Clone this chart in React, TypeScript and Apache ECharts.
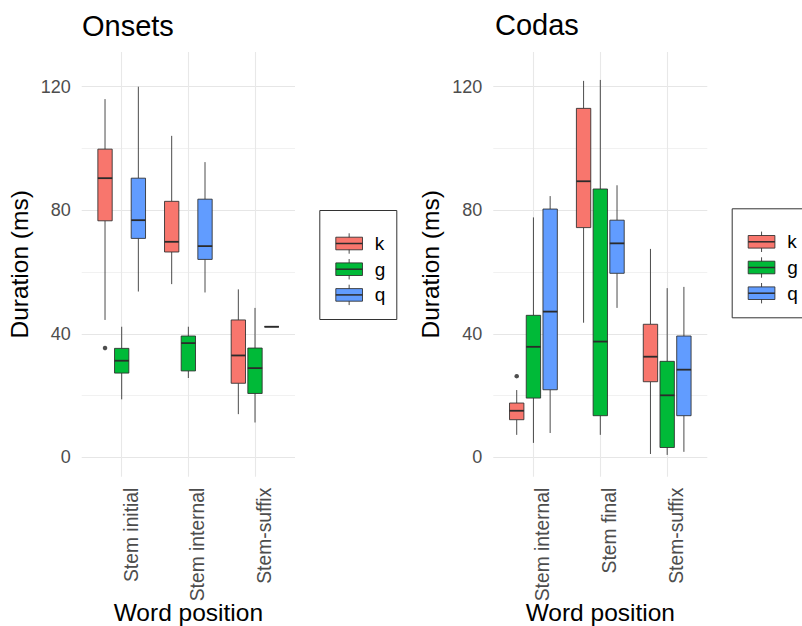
import React, { useEffect, useRef } from "react";
import * as echarts from "echarts";

// ---------- data ----------
const onsetCategories = ["Stem initial", "Stem internal", "Stem-suffix"];
const codaCategories = ["Stem internal", "Stem final", "Stem-suffix"];
const groupNames = ["k", "g", "q"];

// each entry: [lower whisker, Q1, median, Q3, upper whisker]
const onsetK = [
  [44.5, 76.6, 90.4, 99.8, 116.0],
  [56.1, 66.5, 69.8, 82.9, 104.1],
  [14.0, 24.0, 33.0, 44.5, 54.4],
];
const onsetG = [
  [18.8, 27.3, 31.3, 35.3, 42.3],
  [25.7, 28.0, 37.0, 39.3, 42.3],
  [11.3, 20.7, 28.9, 35.4, 48.4],
];
const onsetQ = [
  [53.7, 70.9, 76.8, 90.4, 120.0],
  [53.4, 64.1, 68.4, 83.6, 95.6],
  [42.3, 42.3, 42.3, 42.3, 42.3],
];
const codaK = [
  [7.3, 12.2, 15.1, 17.6, 21.8],
  [43.6, 74.4, 89.4, 113.0, 121.9],
  [1.1, 24.5, 32.6, 43.1, 67.5],
];
const codaG = [
  [4.7, 19.2, 35.8, 46.0, 77.7],
  [7.3, 13.5, 37.5, 86.9, 122.2],
  [0.8, 3.2, 20.1, 31.1, 54.8],
];
const codaQ = [
  [7.9, 21.9, 47.2, 80.4, 84.6],
  [48.4, 59.6, 69.3, 76.8, 88.1],
  [1.8, 13.5, 28.4, 39.3, 55.2],
];
// outliers: [category index, group index, value]
const onsetOutliers = [[0, 0, 35.4]];
const codaOutliers = [[0, 0, 26.3]];

const yGridValues = [0, 20, 40, 60, 80, 100, 120];
const yLabelValues = [0, 40, 80, 120];

// ---------- styling ----------
const FONT = "'Liberation Sans', Arial, Helvetica, sans-serif";
const groupColors = ["#F8766D", "#00BA38", "#619CFF"];
const groupOffsets = [-0.25, 0, 0.25];
const BOX_WIDTH = 0.215;
const STROKE = "rgba(45,45,45,0.85)";

function boxSeries(panel: number, gi: number, stats: number[][]) {
  const color = groupColors[gi];
  return {
    type: "custom",
    xAxisIndex: panel,
    yAxisIndex: panel,
    renderItem: (_params: any, api: any) => {
      const x = api.value(0);
      const pLow = api.coord([x, api.value(1)]);
      const pQ1 = api.coord([x, api.value(2)]);
      const pMed = api.coord([x, api.value(3)]);
      const pQ3 = api.coord([x, api.value(4)]);
      const pHigh = api.coord([x, api.value(5)]);
      const w = api.size([BOX_WIDTH, 0])[0];
      const cx = pMed[0];
      return {
        type: "group",
        children: [
          { type: "line", shape: { x1: cx, y1: pHigh[1], x2: cx, y2: pQ3[1] }, style: { stroke: STROKE, lineWidth: 1 } },
          { type: "line", shape: { x1: cx, y1: pQ1[1], x2: cx, y2: pLow[1] }, style: { stroke: STROKE, lineWidth: 1 } },
          {
            type: "rect",
            shape: { x: cx - w / 2, y: pQ3[1], width: w, height: pQ1[1] - pQ3[1] },
            style: { fill: color, stroke: STROKE, lineWidth: 1 },
          },
          {
            type: "line",
            shape: { x1: cx - w / 2, y1: pMed[1], x2: cx + w / 2, y2: pMed[1] },
            style: { stroke: "#2b2b2b", lineWidth: 1.8 },
          },
        ],
      };
    },
    data: stats.map((s, ci) => [ci + 1 + groupOffsets[gi], ...s]),
    encode: { x: 0, y: [1, 2, 3, 4, 5] },
    silent: true,
  };
}

function outlierSeries(panel: number, outs: number[][]) {
  return {
    type: "scatter",
    xAxisIndex: panel,
    yAxisIndex: panel,
    symbolSize: 4.5,
    itemStyle: { color: "#222" },
    data: outs.map((o) => [o[0] + 1 + groupOffsets[o[1]], o[2]]),
    silent: true,
  };
}

function xAxis(panel: number, cats: string[]) {
  return {
    type: "value",
    gridIndex: panel,
    min: 0.4,
    max: 3.6,
    name: "Word position",
    nameLocation: "middle",
    nameGap: 123,
    nameMoveOverlap: false,
    nameTextStyle: { fontSize: 24.5, color: "#000", fontFamily: FONT },
    axisLine: { show: false },
    axisTick: { show: false, customValues: [1, 2, 3] },
    axisLabel: {
      customValues: [1, 2, 3],
      formatter: (v: number) => cats[Math.round(v) - 1],
      rotate: 90,
      verticalAlign: "top",
      fontSize: 19.3,
      color: "#4d4d4d",
      fontFamily: FONT,
      margin: 11,
    },
    splitLine: { show: true, lineStyle: { color: "#e8e8e8", width: 1.1 } },
  };
}

function yAxis(panel: number) {
  return {
    type: "value",
    gridIndex: panel,
    min: -6.25,
    max: 131.25,
    name: "Duration (ms)",
    nameLocation: "middle",
    nameGap: 50,
    nameMoveOverlap: false,
    nameTextStyle: { fontSize: 24.5, color: "#000", fontFamily: FONT },
    axisLine: { show: false },
    axisTick: { show: false, customValues: yGridValues },
    axisLabel: {
      customValues: yLabelValues,
      fontSize: 18,
      color: "#4d4d4d",
      fontFamily: FONT,
      margin: 11,
    },
    splitLine: { show: true, lineStyle: { color: ["#e6e6e6", "#f1f1f1"], width: 1.1 } },
  };
}

function legendGraphic(left: number, top: number) {
  const children: any[] = [
    { type: "rect", shape: { x: 0, y: 0, width: 77, height: 109 }, style: { fill: "#fff", stroke: "#333", lineWidth: 1 } },
  ];
  groupNames.forEach((name, i) => {
    const cy = 33 + i * 25.7;
    const bx = 16;
    const bw = 26.7;
    children.push(
      { type: "line", shape: { x1: bx + bw / 2, y1: cy - 10.2, x2: bx + bw / 2, y2: cy + 10.2 }, style: { stroke: STROKE, lineWidth: 1 } },
      { type: "rect", shape: { x: bx, y: cy - 6.3, width: bw, height: 12.6 }, style: { fill: groupColors[i], stroke: STROKE, lineWidth: 1 } },
      { type: "line", shape: { x1: bx, y1: cy, x2: bx + bw, y2: cy }, style: { stroke: "#2b2b2b", lineWidth: 1.5 } },
      {
        type: "text",
        x: 55,
        y: cy,
        style: { text: name, fontSize: 19, fill: "#000", fontFamily: FONT, verticalAlign: "middle", align: "left" },
      }
    );
  });
  return { type: "group", left, top, children };
}

export default function App() {
  const ref = useRef<HTMLDivElement>(null);
  useEffect(() => {
    if (!ref.current) return;
    const chart = echarts.init(ref.current, null, { renderer: "svg" });
    chart.setOption({
      animation: false,
      backgroundColor: "#fff",
      textStyle: { fontFamily: FONT },
      title: [
        { text: "Onsets", left: 82, top: 11, padding: 0, textStyle: { fontSize: 29, fontWeight: "normal", color: "#000", fontFamily: FONT } },
        { text: "Codas", left: 495, top: 10, padding: 0, textStyle: { fontSize: 29, fontWeight: "normal", color: "#000", fontFamily: FONT } },
      ],
      grid: [
        { left: 81.7, top: 52, width: 213.3, height: 424.7, containLabel: false, outerBoundsMode: "none" },
        { left: 493.3, top: 52, width: 214, height: 424.7, containLabel: false, outerBoundsMode: "none" },
      ],
      xAxis: [xAxis(0, onsetCategories), xAxis(1, codaCategories)],
      yAxis: [yAxis(0), yAxis(1)],
      series: [
        boxSeries(0, 0, onsetK),
        boxSeries(0, 1, onsetG),
        boxSeries(0, 2, onsetQ),
        outlierSeries(0, onsetOutliers),
        boxSeries(1, 0, codaK),
        boxSeries(1, 1, codaG),
        boxSeries(1, 2, codaQ),
        outlierSeries(1, codaOutliers),
      ],
      graphic: [legendGraphic(319.3, 210), legendGraphic(731.7, 208.3)],
    });
    return () => chart.dispose();
  }, []);
  return <div ref={ref} style={{ position: "fixed", left: 0, top: 0, width: 802, height: 626 }} />;
}
